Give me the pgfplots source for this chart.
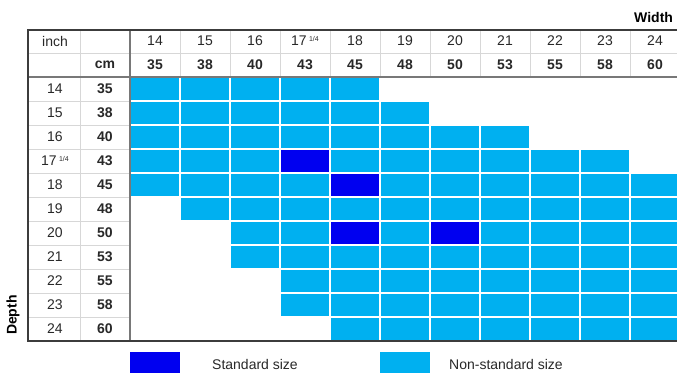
\documentclass[border=0pt]{standalone}
\usepackage{pgfplots}
\pgfplotsset{compat=1.18}
\usepackage{fontspec}
\setmainfont{Liberation Sans}
\definecolor{lb}{RGB}{0,176,240}
\definecolor{db}{RGB}{0,0,240}
\definecolor{txt}{RGB}{40,40,40}
\definecolor{lgrid}{RGB}{215,215,215}
\definecolor{dgrid}{RGB}{60,60,60}
\definecolor{mgrid}{RGB}{120,120,120}
\newcommand\qt{\,\raisebox{0.6ex}{\fontsize{7}{8}\selectfont 1/4}}
\tikzset{
  lab/.style={font=\fontsize{14}{16}\selectfont, text=txt, inner sep=0pt},
  bl/.style={font=\fontsize{14}{16}\selectfont\bfseries, text=txt, inner sep=0pt}}
\begin{document}
\begin{tikzpicture}
\begin{axis}[name=ax, scale only axis, width=677pt, height=372pt, hide axis,
  xmin=-3.1, xmax=10.44, ymin=-3.7083, ymax=11.7917, y dir=reverse, clip=false,
  colormap={tbl}{color(0)=(white) color(1)=(lb) color(2)=(db)},
  point meta min=0, point meta max=2]
\addplot[matrix plot*, mesh/cols=11, point meta=explicit] coordinates {
(0,0)[1] (1,0)[1] (2,0)[1] (3,0)[1] (4,0)[1] (5,0)[0] (6,0)[0] (7,0)[0] (8,0)[0] (9,0)[0] (10,0)[0]

(0,1)[1] (1,1)[1] (2,1)[1] (3,1)[1] (4,1)[1] (5,1)[1] (6,1)[0] (7,1)[0] (8,1)[0] (9,1)[0] (10,1)[0]

(0,2)[1] (1,2)[1] (2,2)[1] (3,2)[1] (4,2)[1] (5,2)[1] (6,2)[1] (7,2)[1] (8,2)[0] (9,2)[0] (10,2)[0]

(0,3)[1] (1,3)[1] (2,3)[1] (3,3)[2] (4,3)[1] (5,3)[1] (6,3)[1] (7,3)[1] (8,3)[1] (9,3)[1] (10,3)[0]

(0,4)[1] (1,4)[1] (2,4)[1] (3,4)[1] (4,4)[2] (5,4)[1] (6,4)[1] (7,4)[1] (8,4)[1] (9,4)[1] (10,4)[1]

(0,5)[0] (1,5)[1] (2,5)[1] (3,5)[1] (4,5)[1] (5,5)[1] (6,5)[1] (7,5)[1] (8,5)[1] (9,5)[1] (10,5)[1]

(0,6)[0] (1,6)[0] (2,6)[1] (3,6)[1] (4,6)[2] (5,6)[1] (6,6)[2] (7,6)[1] (8,6)[1] (9,6)[1] (10,6)[1]

(0,7)[0] (1,7)[0] (2,7)[1] (3,7)[1] (4,7)[1] (5,7)[1] (6,7)[1] (7,7)[1] (8,7)[1] (9,7)[1] (10,7)[1]

(0,8)[0] (1,8)[0] (2,8)[0] (3,8)[1] (4,8)[1] (5,8)[1] (6,8)[1] (7,8)[1] (8,8)[1] (9,8)[1] (10,8)[1]

(0,9)[0] (1,9)[0] (2,9)[0] (3,9)[1] (4,9)[1] (5,9)[1] (6,9)[1] (7,9)[1] (8,9)[1] (9,9)[1] (10,9)[1]

(0,10)[0] (1,10)[0] (2,10)[0] (3,10)[0] (4,10)[1] (5,10)[1] (6,10)[1] (7,10)[1] (8,10)[1] (9,10)[1] (10,10)[1]
};
% white cell separators
\pgfplotsinvokeforeach{0.5,1.5,...,9.5}{
  \draw[white, line width=1.3pt] (axis cs:#1,-0.5) -- (axis cs:#1,10.5);
  \draw[white, line width=1.3pt] (axis cs:-0.5,#1) -- (axis cs:10.6,#1);
}
% light grid in header and label columns
\pgfplotsinvokeforeach{0.5,1.5,...,9.5}{
  \draw[lgrid, line width=0.9pt] (axis cs:#1,-2.46) -- (axis cs:#1,-0.5);
  \draw[lgrid, line width=0.9pt] (axis cs:-2.54,#1) -- (axis cs:-0.5,#1);
}
\draw[lgrid, line width=0.9pt] (axis cs:-2.54,-1.5) -- (axis cs:10.6,-1.5);
\draw[lgrid, line width=0.9pt] (axis cs:-1.5,-2.46) -- (axis cs:-1.5,10.5);
% medium and dark borders
\draw[mgrid, line width=1.2pt] (axis cs:-2.54,-0.5) -- (axis cs:10.6,-0.5);
\draw[mgrid, line width=1.2pt] (axis cs:-0.5,-2.46) -- (axis cs:-0.5,10.5);
\draw[dgrid, line width=1.8pt] (axis cs:10.6,-2.46) -- (axis cs:-2.54,-2.46) -- (axis cs:-2.54,10.5) -- (axis cs:10.6,10.5);
% header labels
\node[lab] at (axis cs:-2,-2) {inch};
\node[bl] at (axis cs:-1,-1) {cm};
\node[lab] at (axis cs:0,-2) {14};
\node[lab] at (axis cs:1,-2) {15};
\node[lab] at (axis cs:2,-2) {16};
\node[lab] at (axis cs:3,-2) {17\qt};
\node[lab] at (axis cs:4,-2) {18};
\node[lab] at (axis cs:5,-2) {19};
\node[lab] at (axis cs:6,-2) {20};
\node[lab] at (axis cs:7,-2) {21};
\node[lab] at (axis cs:8,-2) {22};
\node[lab] at (axis cs:9,-2) {23};
\node[lab] at (axis cs:10,-2) {24};
\node[bl] at (axis cs:0,-1) {35};
\node[bl] at (axis cs:1,-1) {38};
\node[bl] at (axis cs:2,-1) {40};
\node[bl] at (axis cs:3,-1) {43};
\node[bl] at (axis cs:4,-1) {45};
\node[bl] at (axis cs:5,-1) {48};
\node[bl] at (axis cs:6,-1) {50};
\node[bl] at (axis cs:7,-1) {53};
\node[bl] at (axis cs:8,-1) {55};
\node[bl] at (axis cs:9,-1) {58};
\node[bl] at (axis cs:10,-1) {60};
% row labels
\node[lab] at (axis cs:-2,0) {14};
\node[lab] at (axis cs:-2,1) {15};
\node[lab] at (axis cs:-2,2) {16};
\node[lab] at (axis cs:-2,3) {17\qt};
\node[lab] at (axis cs:-2,4) {18};
\node[lab] at (axis cs:-2,5) {19};
\node[lab] at (axis cs:-2,6) {20};
\node[lab] at (axis cs:-2,7) {21};
\node[lab] at (axis cs:-2,8) {22};
\node[lab] at (axis cs:-2,9) {23};
\node[lab] at (axis cs:-2,10) {24};
\node[bl] at (axis cs:-1,0) {35};
\node[bl] at (axis cs:-1,1) {38};
\node[bl] at (axis cs:-1,2) {40};
\node[bl] at (axis cs:-1,3) {43};
\node[bl] at (axis cs:-1,4) {45};
\node[bl] at (axis cs:-1,5) {48};
\node[bl] at (axis cs:-1,6) {50};
\node[bl] at (axis cs:-1,7) {53};
\node[bl] at (axis cs:-1,8) {55};
\node[bl] at (axis cs:-1,9) {58};
\node[bl] at (axis cs:-1,10) {60};
% axis titles
\node[bl, text=black, anchor=west] at (axis cs:9.58,-3.0) {Width};
\node[bl, text=black, rotate=90] at (axis cs:-2.84,9.42) {Depth};
% legend
\addplot[fill=db, draw=none] coordinates {(-0.5,10.96) (0.5,10.96) (0.5,12.2) (-0.5,12.2)} -- cycle;
\addplot[fill=lb, draw=none] coordinates {(4.5,10.96) (5.5,10.96) (5.5,12.2) (4.5,12.2)} -- cycle;
\node[lab] at (axis cs:2.0,11.46) {Standard size};
\node[lab] at (axis cs:7.02,11.46) {Non-standard size};
\end{axis}
\pgfresetboundingbox
\path[use as bounding box] (ax.south west) rectangle (ax.north east);
\end{tikzpicture}
\end{document}
